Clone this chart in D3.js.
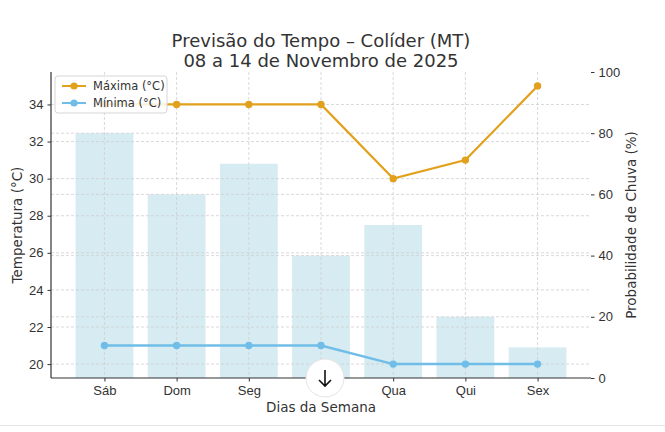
<!DOCTYPE html>
<html><head><meta charset="utf-8">
<script src="https://cdn.jsdelivr.net/npm/d3@7"></script>
<style>body{margin:0;background:#fff}svg{display:block;font-family:"DejaVu Sans",sans-serif}</style>
</head><body>
<svg id="c" width="665" height="432"></svg>
<script>
const days = ["Sáb","Dom","Seg","Ter","Qua","Qui","Sex"];
const tMax = [34,34,34,34,30,31,35];
const tMin = [21,21,21,21,20,20,20];
const rain = [80,60,70,40,50,20,10];
const tempTicks = [20,22,24,26,28,30,32,34];
const rainTicks = [0,20,40,60,80,100];
const titleLines = ["Previsão do Tempo – Colíder (MT)","08 a 14 de Novembro de 2025"];
const legendLabels = ["Máxima (°C)","Mínima (°C)"];

const svg = d3.select("#c");
const L=51,R=591,T=72,B=378;
const x = d3.scaleLinear().domain([-0.74,6.74]).range([L,R]);
const yT = d3.scaleLinear().domain([19.25,35.75]).range([B,T]);
const yR = d3.scaleLinear().domain([0,100]).range([B,T]);
const bw = x(0.4)-x(-0.4);
const txt="#333", grid="#cfcfcf";
const cMax="#E2A11C", cMin="#70BEE7";

// bars
svg.append("g").selectAll("rect").data(rain).join("rect")
 .attr("x",(d,i)=>x(i)-bw/2).attr("width",bw)
 .attr("y",d=>yR(d)).attr("height",d=>B-yR(d))
 .attr("fill","#add8e6").attr("opacity",0.5);

// grid
const g=svg.append("g").attr("stroke",grid).attr("stroke-width",0.8).attr("stroke-dasharray","3,2");
g.selectAll(".h1").data(tempTicks).join("line").attr("x1",L).attr("x2",R).attr("y1",d=>yT(d)).attr("y2",d=>yT(d));
g.selectAll(".h2").data(rainTicks.filter(d=>d>0&&d<100)).join("line").attr("class","h2").attr("x1",L).attr("x2",R).attr("y1",d=>yR(d)).attr("y2",d=>yR(d));
g.selectAll(".v").data(days).join("line").attr("class","v").attr("x1",(d,i)=>x(i)).attr("x2",(d,i)=>x(i)).attr("y1",T).attr("y2",B);

// lines
function series(data,color,w){
  const line=d3.line().x((d,i)=>x(i)).y(d=>yT(d));
  svg.append("path").datum(data).attr("d",line).attr("fill","none").attr("stroke",color).attr("stroke-width",w);
  svg.append("g").selectAll("circle").data(data).join("circle").attr("cx",(d,i)=>x(i)).attr("cy",d=>yT(d)).attr("r",3.7).attr("fill",color);
}
series(tMax,cMax,2.2);
series(tMin,cMin,2.5);

// axes
const axL=svg.append("g").attr("transform",`translate(${L},0)`).call(d3.axisLeft(yT).tickValues(tempTicks).tickSize(3.5).tickPadding(4));
const axR=svg.append("g").attr("transform",`translate(${R},0)`).call(d3.axisRight(yR).tickValues(rainTicks).tickSize(3.5).tickPadding(4));
const axB=svg.append("g").attr("transform",`translate(0,${B})`).call(d3.axisBottom(x).tickValues(d3.range(days.length)).tickFormat(i=>days[i]).tickSize(3.5).tickPadding(4));
[axL,axR,axB].forEach(a=>{a.selectAll("text").attr("fill",txt).style("font-size","13px");a.selectAll("line").attr("stroke",txt);a.select(".domain").attr("stroke",txt).attr("stroke-width",1.2);});
axR.select(".domain").remove();
axL.select(".domain").attr("d",`M0,${B}V${T}`);
axB.select(".domain").attr("d",`M${L},0H${R}`);

// labels
svg.append("text").attr("x",x(3)).attr("y",412).attr("text-anchor","middle").attr("fill",txt).style("font-size","13.5px").text("Dias da Semana");
svg.append("text").attr("transform",`translate(22,${(T+B)/2}) rotate(-90)`).attr("text-anchor","middle").attr("fill",txt).style("font-size","13.5px").text("Temperatura (°C)");
svg.append("text").attr("transform",`translate(636,${(T+B)/2}) rotate(-90)`).attr("text-anchor","middle").attr("fill",txt).style("font-size","13.5px").text("Probabilidade de Chuva (%)");
svg.selectAll(".title").data(titleLines).join("text").attr("x",(L+R)/2).attr("y",(d,i)=>46.5+i*20).attr("text-anchor","middle").attr("fill",txt).style("font-size","18px").text(d=>d);

// legend
const lg=svg.append("g").attr("transform","translate(55,76)");
lg.append("rect").attr("width",112).attr("height",37).attr("rx",3).attr("fill","#fff").attr("fill-opacity",0.85).attr("stroke","#d6d6d6");
[[cMax,legendLabels[0]],[cMin,legendLabels[1]]].forEach(([c,l],i)=>{
  const yy=10+i*17;
  lg.append("line").attr("x1",7).attr("x2",31).attr("y1",yy).attr("y2",yy).attr("stroke",c).attr("stroke-width",2);
  lg.append("circle").attr("cx",19).attr("cy",yy).attr("r",3.6).attr("fill",c);
  lg.append("text").attr("x",38).attr("y",yy+4).attr("fill",txt).style("font-size","11.5px").text(l);
});

// screenshot overlay: scroll button and bottom rule
svg.append("line").attr("x1",0).attr("x2",665).attr("y1",425.5).attr("y2",425.5).attr("stroke","#e6e6e6");
const btn=svg.append("g").attr("transform","translate(325,378)");
btn.append("circle").attr("r",19).attr("fill","#fff").attr("stroke","#e3e3e3");
btn.append("path").attr("d","M0,-8V8M-6,2L0,8L6,2").attr("fill","none").attr("stroke","#111").attr("stroke-width",1.6);
</script>
</body></html>
